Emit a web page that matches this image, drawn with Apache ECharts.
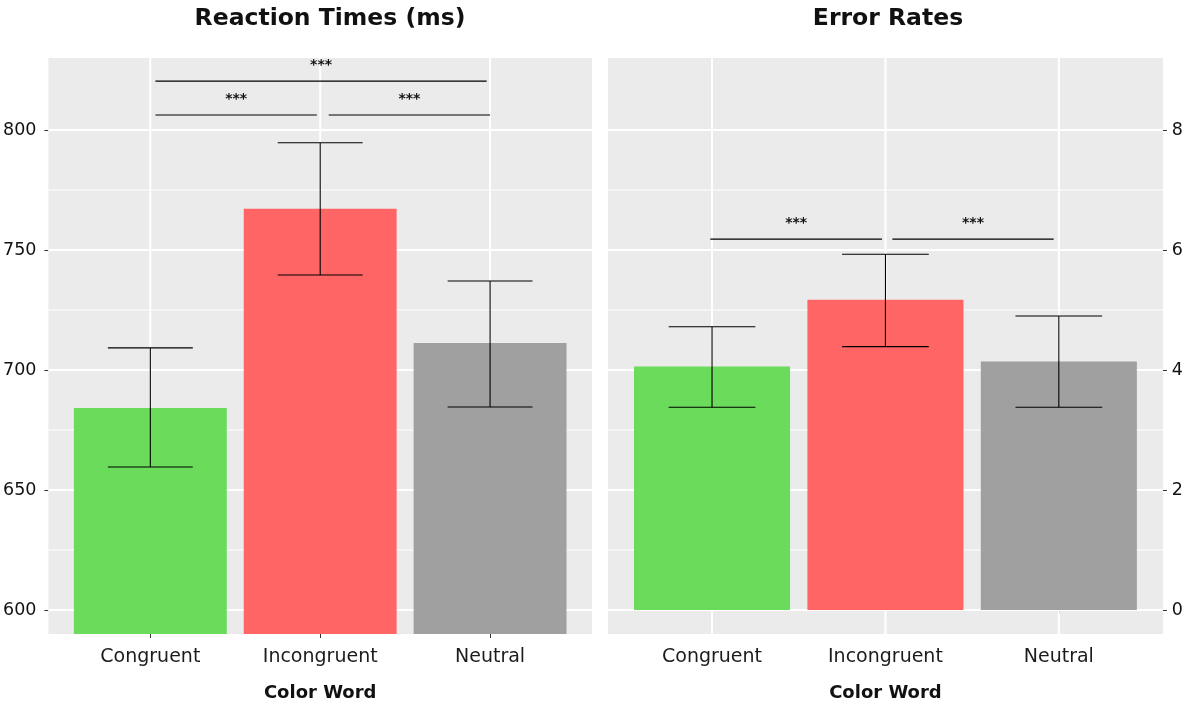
<!DOCTYPE html>
<html>
<head>
<meta charset="utf-8">
<title>Stroop task results</title>
<script src="https://cdn.jsdelivr.net/npm/echarts@6/dist/echarts.min.js"></script>
<style>
  html, body { margin: 0; padding: 0; background: #ffffff; }
  #chart { width: 1186px; height: 707px; }
</style>
</head>
<body>
<div id="chart"></div>
<script>
// Condition names (x positions 1, 2, 3)
const categories = ['Congruent', 'Incongruent', 'Neutral'];
const categoryPos = [1, 2, 3];
const barColors = ['#6ADB5A', '#FF6565', '#A0A0A0'];

// Reaction times (ms): mean and error-bar limits
const rtMeans = [684.2, 767.2, 711.2];
const rtLower = [659.6, 739.6, 684.6];
const rtUpper = [709.2, 794.7, 737.1];
const rtTicks = [600, 650, 700, 750, 800];

// Error rates: mean and error-bar limits
const errMeans = [4.06, 5.17, 4.14];
const errLower = [3.38, 4.39, 3.38];
const errUpper = [4.72, 5.93, 4.90];
const errTicks = [0, 2, 4, 6, 8];

// Significance brackets: start x, end x, height, label
const rtSigFrom = [1.03, 2.05, 1.03];
const rtSigTo = [1.98, 3.00, 2.98];
const rtSigY = [806.25, 806.25, 820.4];
const rtSigText = ['***', '***', '***'];

const errSigFrom = [0.99, 2.04];
const errSigTo = [1.98, 2.97];
const errSigY = [6.18, 6.18];
const errSigText = ['***', '***'];

const FONT = 'DejaVu Sans';

function midpoints(arr) {
  const out = [];
  for (let i = 0; i < arr.length - 1; i++) out.push((arr[i] + arr[i + 1]) / 2);
  return out;
}

// Panel background grid: major and minor white lines
function gridRenderer(yTicks) {
  const yMinor = midpoints(yTicks);
  return function (params, api) {
    const cs = params.coordSys;
    const children = [];
    yMinor.forEach(function (v) {
      const y = api.coord([1, v])[1];
      children.push({ type: 'line', shape: { x1: cs.x, y1: y, x2: cs.x + cs.width, y2: y },
        style: { stroke: '#ffffff', lineWidth: 1 } });
    });
    yTicks.forEach(function (v) {
      const y = api.coord([1, v])[1];
      children.push({ type: 'line', shape: { x1: cs.x, y1: y, x2: cs.x + cs.width, y2: y },
        style: { stroke: '#ffffff', lineWidth: 2 } });
    });
    categoryPos.forEach(function (v) {
      const x = api.coord([v, yTicks[0]])[0];
      children.push({ type: 'line', shape: { x1: x, y1: cs.y, x2: x, y2: cs.y + cs.height },
        style: { stroke: '#ffffff', lineWidth: 2 } });
    });
    return { type: 'group', children: children };
  };
}

function barRenderer(params, api) {
  const x = api.value(0);
  const v = api.value(1);
  const p0 = api.coord([x - 0.45, v]);
  const p1 = api.coord([x + 0.45, 0]);
  const rect = echarts.graphic.clipRectByRect(
    { x: p0[0], y: p0[1], width: p1[0] - p0[0], height: p1[1] - p0[1] },
    params.coordSys
  );
  return rect && { type: 'rect', shape: rect, style: { fill: barColors[params.dataIndex] } };
}

function errorRenderer(params, api) {
  const x = api.value(0);
  const lo = api.value(1);
  const hi = api.value(2);
  const pLo = api.coord([x, lo]);
  const pHi = api.coord([x, hi]);
  const half = (api.coord([x + 0.25, lo])[0] - pLo[0]);
  const st = { stroke: '#000000', lineWidth: 1.1 };
  return {
    type: 'group',
    children: [
      { type: 'line', shape: { x1: pLo[0], y1: pLo[1], x2: pHi[0], y2: pHi[1] }, style: st },
      { type: 'line', shape: { x1: pLo[0] - half, y1: pLo[1], x2: pLo[0] + half, y2: pLo[1] }, style: st },
      { type: 'line', shape: { x1: pHi[0] - half, y1: pHi[1], x2: pHi[0] + half, y2: pHi[1] }, style: st }
    ]
  };
}

function sigRenderer(texts) {
  return function (params, api) {
    const a = api.coord([api.value(0), api.value(2)]);
    const b = api.coord([api.value(1), api.value(2)]);
    return {
      type: 'group',
      children: [
        { type: 'line', shape: { x1: a[0], y1: a[1], x2: b[0], y2: b[1] },
          style: { stroke: '#000000', lineWidth: 1.2 } },
        { type: 'text', x: (a[0] + b[0]) / 2, y: a[1] - 9,
          style: { text: texts[params.dataIndex], fill: '#111111', font: 'bold 14px ' + FONT,
            align: 'center', verticalAlign: 'bottom' } }
      ]
    };
  };
}

function zip(a, b, c) {
  return a.map(function (v, i) { return c ? [v, b[i], c[i]] : [v, b[i]]; });
}

function xAxisFor(gridIndex) {
  return {
    gridIndex: gridIndex, type: 'value', min: 0.4, max: 3.6,
    splitLine: { show: false }, axisLine: { show: false },
    axisTick: { show: true, customValues: categoryPos, length: 4, lineStyle: { color: '#333333', width: 1 } },
    axisLabel: { customValues: categoryPos, margin: 14, fontSize: 19, fontFamily: FONT, color: '#1c1c1c',
      formatter: function (v) { return categories[Math.round(v) - 1]; } },
    name: 'Color Word', nameLocation: 'middle', nameGap: 50,
    nameTextStyle: { fontSize: 18, fontWeight: 'bold', fontFamily: FONT, color: '#111111' }
  };
}

function yAxisFor(gridIndex, min, max, ticks, position, margin) {
  return {
    gridIndex: gridIndex, type: 'value', min: min, max: max, position: position,
    splitLine: { show: false }, axisLine: { show: false },
    axisTick: { show: true, customValues: ticks, length: 4, lineStyle: { color: '#333333', width: 1 } },
    axisLabel: { customValues: ticks, margin: margin, fontSize: 17.5, fontFamily: FONT, color: '#111111' }
  };
}

const chart = echarts.init(document.getElementById('chart'), null, { renderer: 'canvas' });
chart.setOption({
  animation: false,
  backgroundColor: '#ffffff',
  graphic: [
    { type: 'text', x: 330, y: 19, style: { text: 'Reaction Times (ms)', font: 'bold 23.5px ' + FONT,
      fill: '#111111', align: 'center', verticalAlign: 'middle' } },
    { type: 'text', x: 888, y: 19, style: { text: 'Error Rates', font: 'bold 23.5px ' + FONT,
      fill: '#111111', align: 'center', verticalAlign: 'middle' } }
  ],
  grid: [
    { left: 48, top: 58, width: 544, height: 576, show: true, backgroundColor: '#EBEBEB', borderWidth: 0 },
    { left: 608, top: 58, width: 555, height: 576, show: true, backgroundColor: '#EBEBEB', borderWidth: 0 }
  ],
  xAxis: [xAxisFor(0), xAxisFor(1)],
  yAxis: [
    yAxisFor(0, 590, 830, rtTicks, 'left', 12),
    yAxisFor(1, -0.4, 9.2, errTicks, 'right', 9)
  ],
  series: [
    { type: 'custom', xAxisIndex: 0, yAxisIndex: 0, z: 1, renderItem: gridRenderer(rtTicks), data: [[1, 700]] },
    { type: 'custom', xAxisIndex: 1, yAxisIndex: 1, z: 1, renderItem: gridRenderer(errTicks), data: [[1, 4]] },
    { type: 'custom', xAxisIndex: 0, yAxisIndex: 0, z: 2, renderItem: barRenderer, data: zip(categoryPos, rtMeans) },
    { type: 'custom', xAxisIndex: 1, yAxisIndex: 1, z: 2, renderItem: barRenderer, data: zip(categoryPos, errMeans) },
    { type: 'custom', xAxisIndex: 0, yAxisIndex: 0, z: 3, renderItem: errorRenderer, data: zip(categoryPos, rtLower, rtUpper) },
    { type: 'custom', xAxisIndex: 1, yAxisIndex: 1, z: 3, renderItem: errorRenderer, data: zip(categoryPos, errLower, errUpper) },
    { type: 'custom', xAxisIndex: 0, yAxisIndex: 0, z: 3, renderItem: sigRenderer(rtSigText), data: zip(rtSigFrom, rtSigTo, rtSigY) },
    { type: 'custom', xAxisIndex: 1, yAxisIndex: 1, z: 3, renderItem: sigRenderer(errSigText), data: zip(errSigFrom, errSigTo, errSigY) }
  ]
});
</script>
</body>
</html>
